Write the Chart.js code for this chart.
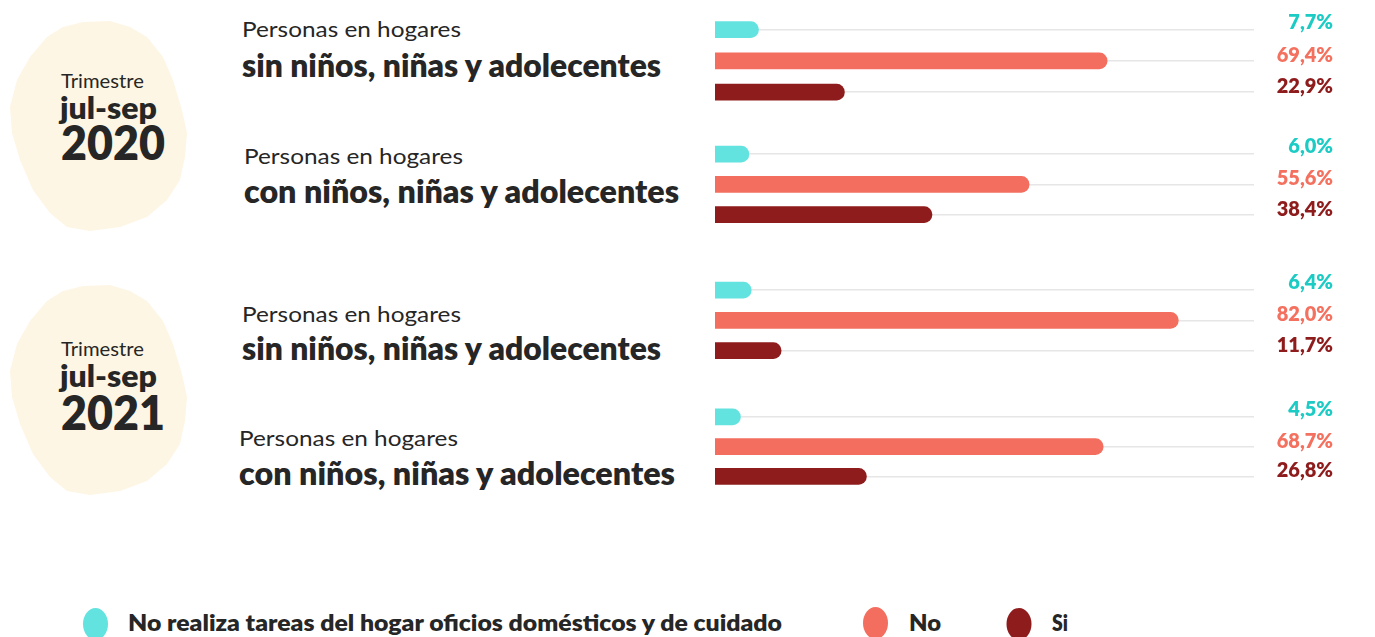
<!DOCTYPE html>
<html><head><meta charset="utf-8">
<script src="https://cdn.jsdelivr.net/npm/chart.js@4.4.0/dist/chart.umd.min.js"></script>
<style>
html,body{margin:0;padding:0;background:#fff;width:1375px;height:637px;overflow:hidden;}
#wrap{position:relative;width:1375px;height:637px;}
#deco{position:absolute;left:0;top:0;}
canvas{position:absolute;}
</style></head><body><div id="wrap"><svg id="deco" width="1375" height="637" xmlns="http://www.w3.org/2000/svg"></svg></div>
<script>
// ---- data ----
const categories = ['No realiza tareas del hogar oficios domésticos y de cuidado', 'No', 'Si'];
const periodYears = ['2020', '2021'];
const periodLabel = 'jul-sep';
const groupPrefix = 'Personas en hogares';
const groupTitles = ['sin niños, niñas y adolecentes', 'con niños, niñas y adolecentes', 'sin niños, niñas y adolecentes', 'con niños, niñas y adolecentes'];
const noRealiza = [7.7, 6.0, 6.4, 4.5];
const noValues  = [69.4, 55.6, 82.0, 68.7];
const siValues  = [22.9, 38.4, 11.7, 26.8];

// ---- styles / layout ----
const barColors  = ['#63E3DF', '#F46E5F', '#8E1C1C'];
const textColors = ['#1CCBC3', '#F4705F', '#8E1C1C'];
const INK = '#262626';
const FONT = 'Lato, "Open Sans", sans-serif';
const groupLayout = [
  {c1: 29.5, slot: 31.25, sub: 37, title: 77, x: 242, wSub: 219, wTitle: 419},
  {c1: 154.5, slot: 30.25, sub: 164, title: 203, x: 244, wSub: 219, wTitle: 435},
  {c1: 290.5, slot: 30.25, sub: 322, title: 360, x: 242, wSub: 219, wTitle: 419},
  {c1: 416.5, slot: 29.75, sub: 446, title: 485, x: 239, wSub: 219, wTitle: 436}
];
const CANVAS_LEFT = 715, CANVAS_W = 660, RIGHT_PAD = 121, PAD = 14, XMAX = 95.4, LABEL_X = 1333;

const svg = document.getElementById('deco');
const NS = 'http://www.w3.org/2000/svg';
function txt(s, x, y, size, weight, color, width, anchor) {
  const t = document.createElementNS(NS, 'text');
  t.setAttribute('x', x); t.setAttribute('y', y);
  t.setAttribute('font-family', FONT); t.setAttribute('font-size', size);
  t.setAttribute('font-weight', weight); t.setAttribute('fill', color);
  if (width) { t.setAttribute('textLength', width); t.setAttribute('lengthAdjust', 'spacingAndGlyphs'); }
  if (anchor) t.setAttribute('text-anchor', anchor);
  t.textContent = s; svg.appendChild(t); return t;
}
// blobs
const blobPts = [[63,27],[83,22],[110,21],[130,27],[147,37],[163,57],[173,80],[182,110],[187,133],[185,157],[180,180],[167,200],[147,217],[120,227],[90,231],[67,227],[50,213],[33,190],[20,160],[12,133],[10,107],[17,80],[30,57],[47,37]];
[0, 266].forEach((dy, k) => {
  const p = document.createElementNS(NS, 'polygon');
  p.setAttribute('points', blobPts.map(q => q[0] + ',' + (q[1] + dy + (k ? -2 : 0))).join(' '));
  p.setAttribute('fill', '#FEF6E4');
  svg.appendChild(p);
  txt('Trimestre', 61, 88 + dy + 2*k, 19, 400, INK, 83);
  txt(periodLabel, 60, 119 + dy + 2*k, 30, 800, INK, 97);
  txt(periodYears[k], 61, 160 + dy + 4*k, 48, 800, INK, 104);
});
// group titles
groupLayout.forEach((g, i) => {
  txt(groupPrefix, g.x, g.sub, 22, 400, INK, g.wSub);
  txt(groupTitles[i], g.x, g.title, 32, 800, INK, g.wTitle);
});
// legend
const legendItems = [
  {cx: 95.5, cy: 624, tx: 128, w: 654},
  {cx: 875.5, cy: 623, tx: 909, w: 32},
  {cx: 1019, cy: 624, tx: 1052, w: 16}
];
legendItems.forEach((L, i) => {
  const e = document.createElementNS(NS, 'ellipse');
  e.setAttribute('cx', L.cx); e.setAttribute('cy', L.cy); e.setAttribute('rx', 12.5); e.setAttribute('ry', 16);
  e.setAttribute('fill', barColors[i]); svg.appendChild(e);
  txt(categories[i], L.tx, 631, 22, 800, INK, L.w);
});

// ---- charts ----
const valueLabels = {
  id: 'valueLabels',
  afterDatasetsDraw(chart) {
    const ctx = chart.ctx;
    const meta = chart.getDatasetMeta(0);
    ctx.save();
    ctx.font = '800 20px ' + FONT;
    ctx.textAlign = 'right'; ctx.textBaseline = 'alphabetic';
    meta.data.forEach((bar, j) => {
      const v = chart.data.datasets[0].data[j];
      ctx.fillStyle = textColors[j];
      ctx.fillText(v.toFixed(1).replace('.', ',') + '%', LABEL_X - CANVAS_LEFT, bar.y + (j === 0 ? -1 : 1));
    });
    ctx.restore();
  }
};
groupLayout.forEach((g, i) => {
  const cv = document.createElement('canvas');
  const h = 3 * g.slot + 2 * PAD;
  cv.width = CANVAS_W; cv.height = Math.round(h);
  cv.style.left = CANVAS_LEFT + 'px';
  cv.style.top = (g.c1 - g.slot / 2 - PAD) + 'px';
  document.getElementById('wrap').appendChild(cv);
  new Chart(cv, {
    type: 'bar',
    data: {
      labels: categories,
      datasets: [{
        data: [noRealiza[i], noValues[i], siValues[i]],
        backgroundColor: barColors,
        barThickness: 16,
        borderRadius: 8,
        borderSkipped: 'start'
      }]
    },
    options: {
      indexAxis: 'y', responsive: false, animation: false, devicePixelRatio: 1,
      layout: {padding: {left: 0, right: RIGHT_PAD, top: PAD, bottom: PAD + (cv.height - h)}},
      plugins: {legend: {display: false}, tooltip: {enabled: false}},
      scales: {
        x: {display: false, min: 0, max: XMAX},
        y: {display: true, ticks: {display: false}, border: {display: false},
            grid: {offset: false, color: '#e6e6e6', lineWidth: 1.5, drawTicks: false}}
      }
    },
    plugins: [valueLabels]
  });
});
</script></body></html>
